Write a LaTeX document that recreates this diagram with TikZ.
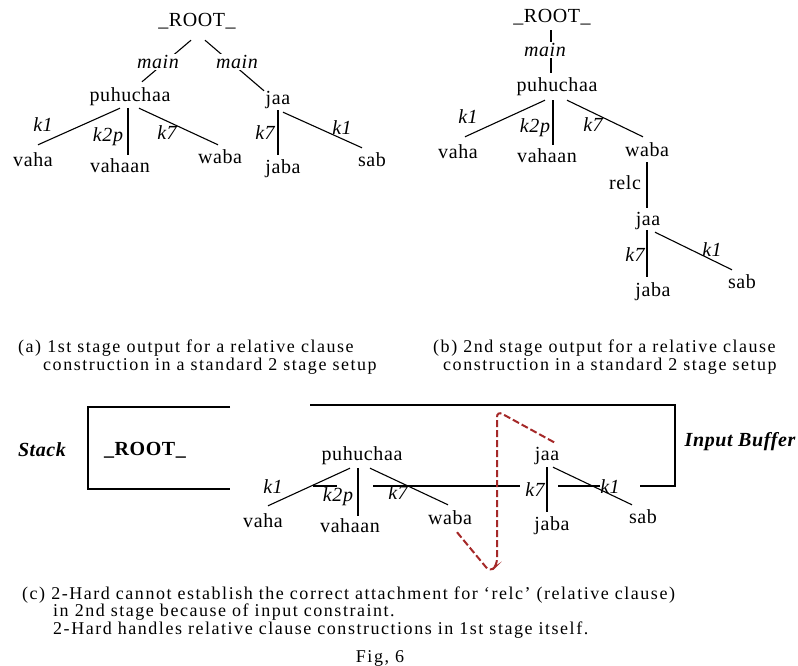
\documentclass[tikz,border=0pt]{standalone}
\usepackage{fontspec}
\setmainfont{Liberation Serif}
\newfontfamily\treefont[LetterSpace=3]{Liberation Serif}
\newfontfamily\capfont[LetterSpace=8.5]{Liberation Serif}
\definecolor{dred}{RGB}{165,40,40}
\begin{document}
\begin{tikzpicture}[x=1pt,y=-1pt,
  w/.style={font=\treefont\fontsize{20}{24}\selectfont, inner sep=1pt, text height=14pt, text depth=4pt},
  el/.style={font=\treefont\itshape\fontsize{20}{24}\selectfont, inner sep=1pt},
  elw/.style={el, fill=white},
  rl/.style={font=\treefont\fontsize{20}{24}\selectfont, inner sep=1pt},
  bi/.style={font=\treefont\bfseries\itshape\fontsize{20}{24}\selectfont, inner sep=1pt},
  bo/.style={font=\treefont\bfseries\fontsize{20}{24}\selectfont, inner sep=1pt},
  ln/.style={line width=1.1pt},
  reddash/.style={draw=dred, line width=2pt, dash pattern=on 7pt off 3pt, rounded corners=6pt},
  captxt/.style={font=\capfont\fontsize{18}{20}\selectfont, anchor=base west, inner sep=0pt}]
\fill[white] (0,0) rectangle (798,666);
\useasboundingbox (0,0) rectangle (798,666);

% ---------- (a) ----------
\node[w] (a0) at (197,22) {\_ROOT\_};
\node[w] (apuh) at (130,97) {puhuchaa};
\node[w] (ajaa) at (278,100) {jaa};
\node[w] (avaha) at (33,162) {vaha};
\node[w] (avahaan) at (120,167) {vahaan};
\node[w] (awaba) at (220,159) {waba};
\node[w] (ajaba) at (283,168) {jaba};
\node[w] (asab) at (372,162) {sab};
\draw[ln] ([xshift=-6pt,yshift=-8pt]a0.south) -- ([xshift=12pt,yshift=5pt]apuh.north);
\draw[ln] ([xshift=8pt,yshift=-8pt]a0.south) -- ([xshift=-14pt,yshift=-1pt]ajaa.north);
\draw[ln] ([xshift=-10pt,yshift=-1pt]apuh.south) -- ([xshift=5pt,yshift=7pt]avaha.north);
\draw[ln] ([xshift=-2pt,yshift=-1pt]apuh.south) -- ([xshift=8pt,yshift=2pt]avahaan.north);
\draw[ln] ([xshift=9pt,yshift=-1pt]apuh.south) -- ([xshift=-2pt,yshift=4pt]awaba.north);
\draw[ln] (ajaa.south) -- ([xshift=-5pt,yshift=3pt]ajaba.north);
\draw[ln] ([xshift=5pt,yshift=-2pt]ajaa.south) -- ([xshift=-10pt,yshift=4pt]asab.north);
\node[elw] (am1) at (158,62) {main};
\node[elw] (am2) at (237,62) {main};
\node[el] (ak1) at (43,125) {k1};
\node[el] (ak2p) at (108,137) {k2p};
\node[el] (ak7) at (167,133) {k7};
\node[el] (ak7b) at (265,133) {k7};
\node[el] (ak1b) at (342,128) {k1};

% ---------- (b) ----------
\node[w] (b0) at (552,18) {\_ROOT\_};
\node[w] (bpuh) at (557,87) {puhuchaa};
\node[w] (bvaha) at (458,153) {vaha};
\node[w] (bvahaan) at (547,158) {vahaan};
\node[w] (bwaba) at (647,152) {waba};
\node[w] (bjaa) at (648,220) {jaa};
\node[w] (bjaba) at (653,291) {jaba};
\node[w] (bsab) at (742,283) {sab};
\draw[ln] ([xshift=-1pt,yshift=-2pt]b0.south) -- ([xshift=-6pt,yshift=4pt]bpuh.north);
\draw[ln] ([xshift=-12pt,yshift=-3pt]bpuh.south) -- ([xshift=7pt,yshift=6pt]bvaha.north);
\draw[ln] ([xshift=-4pt,yshift=-3pt]bpuh.south) -- ([xshift=6pt,yshift=3pt]bvahaan.north);
\draw[ln] ([xshift=10pt,yshift=-3pt]bpuh.south) -- ([xshift=-4pt,yshift=5pt]bwaba.north);
\draw[ln] (bwaba.south) -- ([xshift=-1pt,yshift=2pt]bjaa.north);
\draw[ln] ([xshift=-1pt]bjaa.south) -- ([xshift=-6pt,yshift=4pt]bjaba.north);
\draw[ln] ([xshift=7pt,yshift=-2pt]bjaa.south) -- ([xshift=-10pt,yshift=3pt]bsab.north);
\node[elw] (bm) at (545,50) {main};
\node[el] (bk1) at (468,117) {k1};
\node[el] (bk2p) at (535,128) {k2p};
\node[el] (bk7) at (593,125) {k7};
\node[rl] (brelc) at (625,183) {relc};
\node[el] (bk7b) at (635,255) {k7};
\node[el] (bk1b) at (712,250) {k1};

% ---------- captions (a),(b) ----------
\node[captxt] (capa1) at (18,352) {(a) 1st stage output for a relative clause};
\node[captxt] (capa2) at (43,370) {construction in a standard 2 stage setup};
\node[captxt] (capb1) at (433,352) {(b) 2nd stage output for a relative clause};
\node[captxt] (capb2) at (443,370) {construction in a standard 2 stage setup};

% ---------- (c) ----------
\node[bi] (stack) at (42,450) {Stack};
\draw[ln] (230,407) -- (88,407) -- (88,489) -- (230,489);
\node[bo] (croot) at (145,450) {\_ROOT\_};
\draw[ln] (310,405) -- (675,405) -- (675,486) -- (640,486);
\draw[ln] (313,486) -- (337,486);
\draw[ln] (373,486) -- (520,486);
\draw[ln] (558,486) -- (600,486);
\node[bi] (ibuf) at (740,442) {Input Buffer};

\node[w] (cpuh) at (362,455) {puhuchaa};
\node[w] (cvaha) at (263,522) {vaha};
\node[w] (cvahaan) at (350,527) {vahaan};
\node[w] (cwaba) at (450,519) {waba};
\node[w] (cjaa) at (547,455) {jaa};
\node[w] (cjaba) at (552,525) {jaba};
\node[w] (csab) at (643,518) {sab};
\draw[ln] ([xshift=-12pt,yshift=-3pt]cpuh.south) -- ([xshift=5pt,yshift=6pt]cvaha.north);
\draw[ln] ([xshift=-4pt,yshift=-3pt]cpuh.south) -- ([xshift=8pt,yshift=1pt]cvahaan.north);
\draw[ln] ([xshift=8pt,yshift=-3pt]cpuh.south) -- ([xshift=-2pt,yshift=4pt]cwaba.north);
\draw[ln] ([yshift=-2pt]cjaa.south) -- ([xshift=-5pt,yshift=3pt]cjaba.north);
\draw[ln] ([xshift=6pt,yshift=-2pt]cjaa.south) -- ([xshift=-11pt,yshift=3pt]csab.north);
\node[el] (ck1) at (273,487) {k1};
\node[el] (ck2p) at (338,497) {k2p};
\node[el] (ck7) at (398,493) {k7};
\node[el] (ck7b) at (535,490) {k7};
\node[el] (ck1b) at (610,487) {k1};

\draw[reddash] ([xshift=7pt,yshift=-3pt]cwaba.south) -- (490,572) -- (497,565) -- (497,411) -- ([xshift=8pt,yshift=2pt]cjaa.north);

% ---------- caption (c) ----------
\node[captxt] (capc1) at (22,599) {(c) 2-Hard cannot establish the correct attachment for ‘relc’ (relative clause)};
\node[captxt] (capc2) at (53,616) {in 2nd stage because of input constraint.};
\node[captxt] (capc3) at (53,634) {2-Hard handles relative clause constructions in 1st stage itself.};
\node[captxt, anchor=base] (fig) at (380,662) {Fig, 6};
\end{tikzpicture}
\end{document}
